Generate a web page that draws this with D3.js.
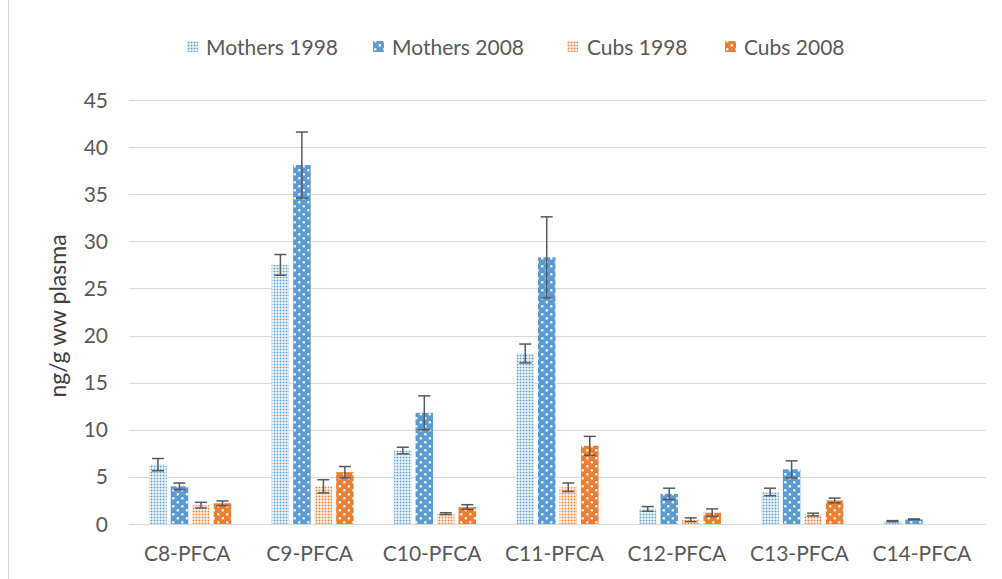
<!DOCTYPE html>
<html>
<head>
<meta charset="utf-8">
<script src="https://cdn.jsdelivr.net/npm/d3@7"></script>
<style>
  body { margin: 0; background: #fff; }
  text { font-family: Lato, "Open Sans", sans-serif; fill: #595959; }
</style>
</head>
<body>
<script>
const categories = ['C8-PFCA', 'C9-PFCA', 'C10-PFCA', 'C11-PFCA', 'C12-PFCA', 'C13-PFCA', 'C14-PFCA']
const seriesNames = ['Mothers 1998', 'Mothers 2008', 'Cubs 1998', 'Cubs 2008']

// means and error (+/-), ng/g ww
const mothers1998 = [6.3, 27.5, 7.8, 18.1, 1.6, 3.4, 0.3]
const mothers1998Err = [0.65, 1.1, 0.35, 1.0, 0.25, 0.4, 0.06]
const mothers2008 = [4.0, 38.1, 11.8, 28.3, 3.2, 5.8, 0.5]
const mothers2008Err = [0.35, 3.5, 1.8, 4.3, 0.6, 0.9, 0.04]
const cubs1998 = [2.0, 4.0, 1.1, 3.9, 0.45, 1.0, null]
const cubs1998Err = [0.3, 0.7, 0.1, 0.45, 0.2, 0.15, null]
const cubs2008 = [2.2, 5.5, 1.8, 8.3, 1.2, 2.5, null]
const cubs2008Err = [0.25, 0.6, 0.25, 1.0, 0.4, 0.25, null]

const yTicks = [0, 5, 10, 15, 20, 25, 30, 35, 40, 45]

const seriesValues = [mothers1998, mothers2008, cubs1998, cubs2008]
const seriesErrors = [mothers1998Err, mothers2008Err, cubs1998Err, cubs2008Err]
const blue = '#5b9bd5'
const orange = '#ed7d31'
const patternIds = ['pM98', 'pM08', 'pC98', 'pC08']

const width = 1002, height = 579
const margin = {top: 100, right: 16, bottom: 55, left: 129}

const svg = d3.select('body').append('svg')
  .attr('width', width)
  .attr('height', height)

// patterns: light dotted for 1998, solid with white dots for 2008
const defs = svg.append('defs')
function lightDots(id, color) {
  const p = defs.append('pattern').attr('id', id)
    .attr('patternUnits', 'userSpaceOnUse').attr('width', 3).attr('height', 3)
  p.append('rect').attr('width', 3).attr('height', 3).attr('fill', '#fff')
  p.append('rect').attr('x', 0.6).attr('y', 0.6).attr('width', 1.8).attr('height', 1.8).attr('fill', color)
}
function solidDots(id, color) {
  const p = defs.append('pattern').attr('id', id)
    .attr('patternUnits', 'userSpaceOnUse').attr('width', 9).attr('height', 8)
  p.append('rect').attr('width', 9).attr('height', 8).attr('fill', color)
  p.append('rect').attr('x', 1.2).attr('y', 1.2).attr('width', 2.2).attr('height', 2.2).attr('fill', '#fff')
  p.append('rect').attr('x', 5.7).attr('y', 5.2).attr('width', 2.2).attr('height', 2.2).attr('fill', '#fff')
}
lightDots('pM98', blue)
solidDots('pM08', blue)
lightDots('pC98', orange)
solidDots('pC08', orange)

// left chart border
svg.append('line')
  .attr('x1', 8.5).attr('x2', 8.5).attr('y1', 0).attr('y2', height)
  .attr('stroke', '#d9d9d9')

const x0 = d3.scaleBand()
  .domain(categories)
  .range([margin.left, width - margin.right])

const x1 = d3.scaleBand()
  .domain(seriesNames)
  .range([0, x0.bandwidth()])
  .paddingInner(0.186)
  .paddingOuter(0.94)

const y = d3.scaleLinear()
  .domain([0, 45])
  .range([524, 100])

// gridlines
svg.append('g')
  .selectAll('line')
  .data(yTicks)
  .enter().append('line')
  .attr('x1', margin.left).attr('x2', width - margin.right)
  .attr('y1', d => Math.round(y(d)) + 0.5).attr('y2', d => Math.round(y(d)) + 0.5)
  .attr('stroke', '#d9d9d9')
  .attr('stroke-width', 1.2)

// y tick labels
svg.append('g')
  .selectAll('text')
  .data(yTicks)
  .enter().append('text')
  .attr('x', 108)
  .attr('y', d => y(d))
  .attr('dy', '0.36em')
  .attr('text-anchor', 'end')
  .style('font-size', '21px')
  .text(d => d)

// x labels
svg.append('g')
  .selectAll('text')
  .data(categories)
  .enter().append('text')
  .attr('x', d => x0(d) + x0.bandwidth() / 2 - 3)
  .attr('y', 561)
  .attr('text-anchor', 'middle')
  .style('font-size', '21px')
  .text(d => d)

// y axis title
svg.append('text')
  .attr('transform', 'translate(66,316) rotate(-90)')
  .attr('text-anchor', 'middle')
  .style('font-size', '23px')
  .style('fill', '#404040')
  .text('ng/g ww plasma')

// bars
const rows = []
categories.forEach((c, i) => {
  seriesNames.forEach((s, j) => {
    if (seriesValues[j][i] != null) {
      rows.push({cat: c, series: s, k: j, value: seriesValues[j][i], err: seriesErrors[j][i]})
    }
  })
})

svg.append('g')
  .selectAll('rect')
  .data(rows)
  .enter().append('rect')
  .attr('x', d => x0(d.cat) + x1(d.series))
  .attr('y', d => y(d.value))
  .attr('width', x1.bandwidth())
  .attr('height', d => y(0) - y(d.value))
  .attr('fill', d => 'url(#' + patternIds[d.k] + ')')

// error bars
const capW = 12
const eb = svg.append('g')
  .attr('stroke', '#595959')
  .attr('stroke-width', 1.5)
  .selectAll('g')
  .data(rows)
  .enter().append('g')
  .attr('transform', d => 'translate(' + (x0(d.cat) + x1(d.series) + x1.bandwidth() / 2) + ',0)')
eb.append('line')
  .attr('y1', d => y(d.value - d.err)).attr('y2', d => y(d.value + d.err))
eb.append('line')
  .attr('x1', -capW / 2).attr('x2', capW / 2)
  .attr('y1', d => y(d.value + d.err)).attr('y2', d => y(d.value + d.err))
eb.append('line')
  .attr('x1', -capW / 2).attr('x2', capW / 2)
  .attr('y1', d => y(d.value - d.err)).attr('y2', d => y(d.value - d.err))

// legend
const legendX = [187, 373, 567, 725]
const legend = svg.append('g')
  .selectAll('g')
  .data(seriesNames)
  .enter().append('g')
  .attr('transform', (d, i) => 'translate(' + legendX[i] + ',47)')
legend.append('rect')
  .attr('x', 0).attr('y', -6)
  .attr('width', 11).attr('height', 11)
  .attr('fill', (d, i) => 'url(#' + patternIds[i] + ')')
legend.append('text')
  .attr('x', (d, i) => i == 2 ? 20 : 19)
  .attr('y', 0)
  .attr('dy', '0.36em')
  .style('font-size', '21px')
  .text(d => d)
</script>
</body>
</html>
